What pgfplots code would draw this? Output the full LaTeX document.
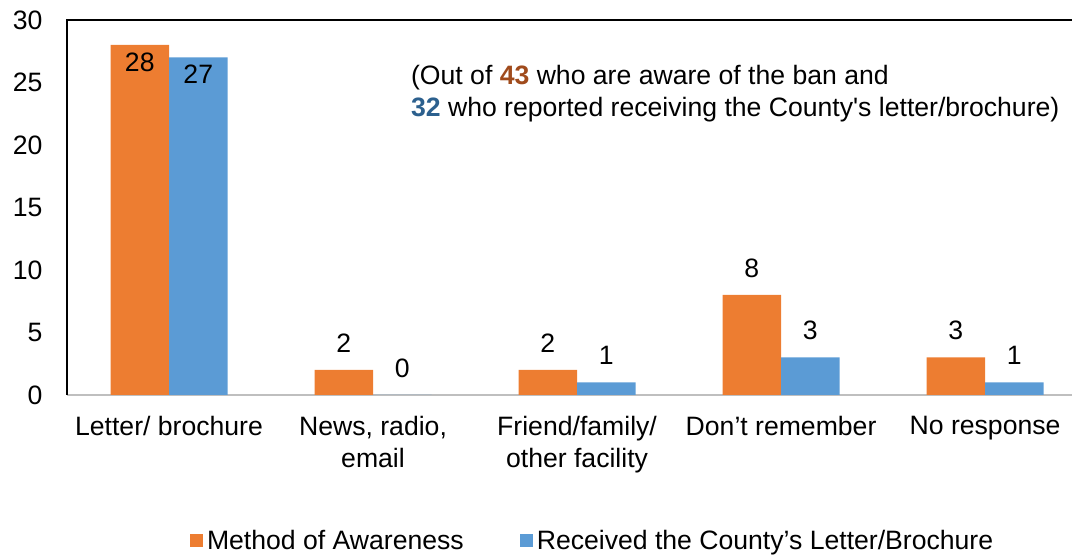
\documentclass[border=0pt]{standalone}
\usepackage{pgfplots}
\pgfplotsset{compat=1.18}
\usepackage{fontspec}
\setmainfont{Liberation Sans}
\definecolor{awareorange}{HTML}{ED7D31}
\definecolor{letterblue}{HTML}{5B9BD5}
\definecolor{numbrown}{RGB}{160,75,28}
\definecolor{numblue}{RGB}{44,96,142}
\definecolor{basegray}{HTML}{BFBFBF}

\begin{document}
\begin{tikzpicture}
\useasboundingbox (-33.5pt,-80pt) rectangle (502.5pt,197.5pt);
\begin{axis}[
    scale only axis,
    width=502.5pt, height=187.5pt,
    font=\fontsize{13.3}{16}\selectfont,
    ybar=0pt,
    bar width=29.25pt,
    xmin=-0.5, xmax=4.426,
    ymin=0, ymax=30,
    ytick={0,5,...,30},
    xtick={0,1,2,3,4},
    xticklabels={Letter/ brochure, {News, radio,\\email}, {Friend/family/\\other facility}, Don’t remember, No response},
    xticklabel style={align=center, yshift=-2.8pt},
    yticklabel style={xshift=-8.7pt},
    /pgf/number format/assume math mode=true,
    axis line style={draw=none},
    tick style={draw=none},
    nodes near coords,
    visualization depends on={y \as \rawy},
    every node near coord/.append style={anchor=center, font=\fontsize{13.3}{16}\selectfont, black,
        yshift={ifthenelse(\rawy>20,-8.5,13.5)*1pt}},
    legend style={at={(0.524,-0.389)}, anchor=center, draw=none, fill=none,
        legend columns=2, font=\fontsize{13.3}{16}\selectfont,
        /tikz/every even column/.append style={column sep=26pt}},
    legend image code/.code={\fill[#1] (-2pt,-3.25pt) rectangle (4.5pt,3.25pt);},
    clip=false,
]
\draw[basegray, line width=0.8pt] (rel axis cs:0,0) -- (rel axis cs:1,0);
\draw[black, line width=0.8pt] (rel axis cs:0,0) -- (rel axis cs:0,1) -- (rel axis cs:1,1);

\addplot[fill=awareorange, draw=none] coordinates {
    (0,28) (1,2) (2,2) (3,8) (4,3)
};
\addlegendentry{Method of Awareness}
\addplot[fill=letterblue, draw=none] coordinates {
    (0,27) (1,0) (2,1) (3,3) (4,1)
};
\addlegendentry{Received the County’s Letter/Brochure}

\node[anchor=base west, inner sep=0pt, font=\fontsize{13.3}{16}\selectfont] at (rel axis cs:0.342,0.828)
    {(Out of \textcolor{numbrown}{\textbf{43}} who are aware of the ban and};
\node[anchor=base west, inner sep=0pt, font=\fontsize{13.3}{16}\selectfont] at (rel axis cs:0.342,0.743)
    {\textcolor{numblue}{\textbf{32}} who reported receiving the County\textquotesingle s letter/brochure)};
\end{axis}
\end{tikzpicture}
\end{document}
